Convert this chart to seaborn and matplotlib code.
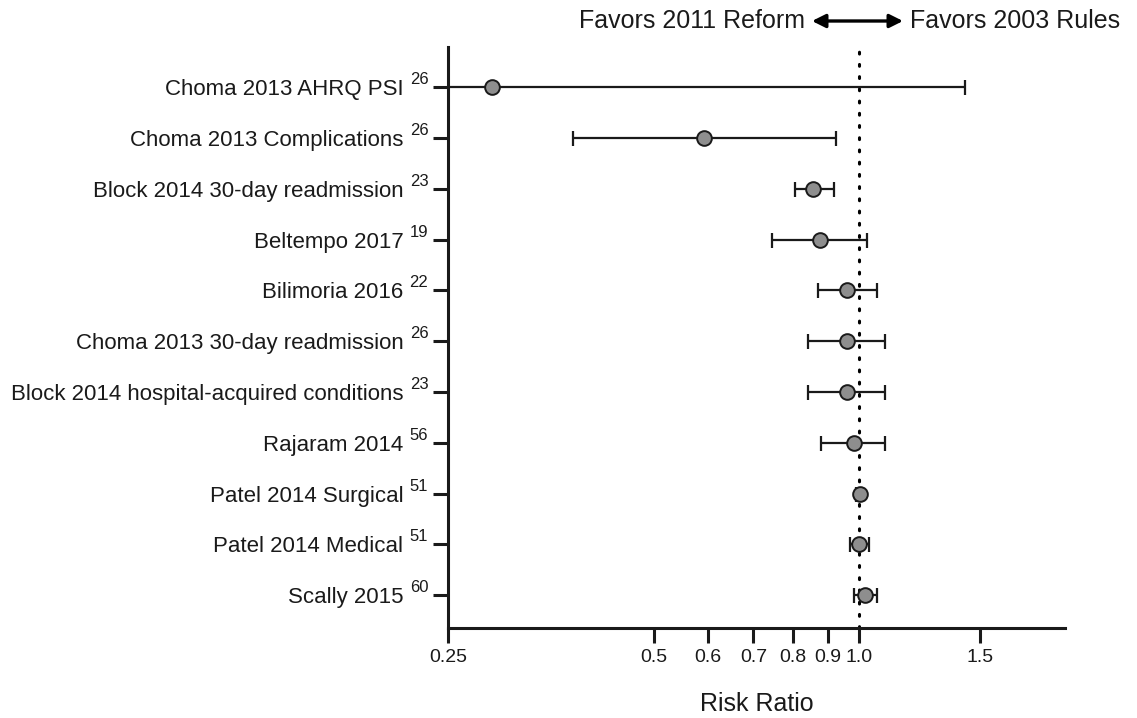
import numpy as np
import matplotlib
matplotlib.use("Agg")
import matplotlib.pyplot as plt
import matplotlib.transforms as mtransforms
from matplotlib.ticker import NullLocator, FixedLocator, FixedFormatter
import seaborn as sns

studies = ["Choma 2013 AHRQ PSI", "Choma 2013 Complications", "Block 2014 30-day readmission",
           "Beltempo 2017", "Bilimoria 2016", "Choma 2013 30-day readmission",
           "Block 2014 hospital-acquired conditions", "Rajaram 2014", "Patel 2014 Surgical",
           "Patel 2014 Medical", "Scally 2015"]
refs = ["26", "26", "23", "19", "22", "26", "23", "56", "51", "51", "60"]
rr = [0.29, 0.593, 0.855, 0.877, 0.961, 0.961, 0.961, 0.982, 1.003, 1.0, 1.02]
ci_low = [0.06, 0.381, 0.805, 0.745, 0.871, 0.841, 0.841, 0.880, 0.99, 0.97, 0.982]
ci_high = [1.426, 0.926, 0.918, 1.028, 1.063, 1.092, 1.092, 1.092, 1.012, 1.034, 1.063]
xticks = [0.25, 0.5, 0.6, 0.7, 0.8, 0.9, 1.0, 1.5]
xticklabels = ["0.25", "0.5", "0.6", "0.7", "0.8", "0.9", "1.0", "1.5"]

sns.set_style("ticks")
plt.rcParams['font.family'] = ['Liberation Sans', 'DejaVu Sans']

ink = '#1a1a1a'
fig = plt.figure(figsize=(11.37, 7.18), dpi=100)
ax = fig.add_axes([0.3938, 0.1258, 0.9367 - 0.3938, 0.9345 - 0.1258])
ax.set_xscale('log', base=2)

rr_a = np.array(rr)
lo = np.array(ci_low)
hi = np.array(ci_high)
pos = np.arange(len(studies))

ax.axvline(1.0, color='black', linestyle=(0, (0.6, 3.4)), lw=2.2, zorder=1.5,
           dash_capstyle='round')
ax.errorbar(rr_a, pos, xerr=[rr_a - lo, hi - rr_a], fmt='none', ecolor=ink,
            elinewidth=1.6, capsize=5.4, capthick=1.6, zorder=2)
sns.scatterplot(x=rr_a, y=pos, s=112, color='#8e8e8e', edgecolor=ink,
                linewidth=1.4, zorder=3, ax=ax, legend=False)

ax.set_xlim(0.25, 2.0)
ax.set_ylim(10.64, -0.79)
ax.xaxis.set_major_locator(FixedLocator(xticks))
ax.xaxis.set_major_formatter(FixedFormatter(xticklabels))
ax.xaxis.set_minor_locator(NullLocator())
ax.set_yticks(pos)
ax.set_yticklabels(studies)

# superscript reference numbers between the label and the tick
sup_tr = mtransforms.blended_transform_factory(ax.transAxes, ax.transData) + \
    mtransforms.ScaledTranslation(-19.5 / 100, 3 / 100, fig.dpi_scale_trans)
for p, r in zip(pos, refs):
    ax.text(0, p, r, transform=sup_tr, ha='right', va='baseline',
            fontsize=12, color=ink, clip_on=False)

for side in ['top', 'right']:
    ax.spines[side].set_visible(False)
for side in ['left', 'bottom']:
    ax.spines[side].set_linewidth(2.2)
    ax.spines[side].set_color(ink)
ax.tick_params(axis='x', length=11, width=2.2, color=ink, labelsize=14,
               labelcolor=ink, pad=4)
ax.tick_params(axis='y', length=11, width=2.2, color=ink, labelsize=16,
               labelcolor=ink, pad=21)
ax.set_xlabel("Risk Ratio", fontsize=18, color=ink, labelpad=19)
ax.set_ylabel("")

yh = 1 - 21 / 718
fig.text(805 / 1137, yh, "Favors 2011 Reform", ha='right', va='center',
         fontsize=18, color=ink)
fig.text(910 / 1137, yh, "Favors 2003 Rules", ha='left', va='center',
         fontsize=18, color=ink)
ax.annotate('', xy=(903 / 1137, yh), xytext=(812 / 1137, yh),
            xycoords='figure fraction', textcoords='figure fraction',
            arrowprops=dict(arrowstyle='<|-|>', lw=2.4, color='black',
                            mutation_scale=20, shrinkA=0, shrinkB=0))

fig.savefig("out.png", dpi=100)
